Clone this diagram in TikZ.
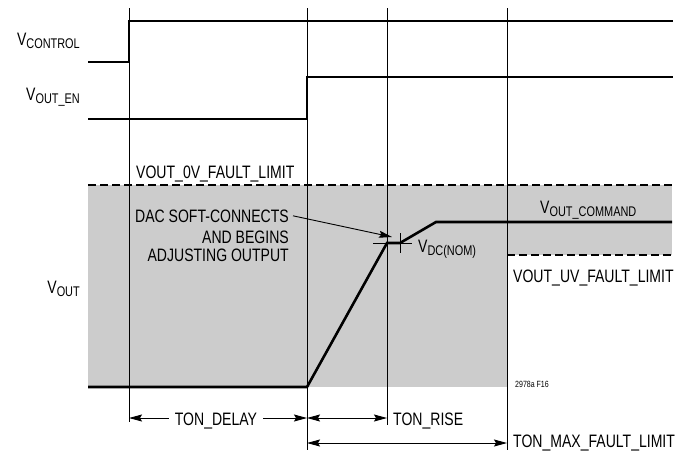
\documentclass[tikz,border=0pt]{standalone}
\usepackage{fontspec}
\setmainfont{Liberation Sans}[FakeStretch=0.78]
\usetikzlibrary{arrows.meta}
\definecolor{areagray}{HTML}{CCCCCC}
\newcommand\lsub[1]{\raisebox{-0.35ex}{\fontsize{14}{14}\selectfont #1}}
\begin{document}
\begin{tikzpicture}[x=1pt,y=-1pt,
  sig/.style={line width=2.6pt,line cap=butt,line join=miter},
  guide/.style={line width=0.8pt},
  lim/.style={line width=1.2pt,dash pattern=on 8pt off 4pt},
  lbl/.style={inner sep=0pt,font=\fontsize{18}{18}\selectfont},
  dim/.style={line width=0.9pt,-{Stealth[length=13pt,width=7pt,inset=2pt]}},
  dimb/.style={line width=0.9pt,{Stealth[length=13pt,width=7pt,inset=2pt]}-{Stealth[length=13pt,width=7pt,inset=2pt]}}]
\useasboundingbox (0,0) rectangle (677,450);
% shaded window
\fill[areagray] (88,185) rectangle (507,387);
\fill[areagray] (507,185) rectangle (672,255);
% limits
\draw[lim] (88,185) -- (673,185);
\draw[lim] (507,255) -- (672,255);
% guides
\coordinate (g1t) at (129,8);   \coordinate (g1b) at (129,422);
\coordinate (g2t) at (307,8);   \coordinate (g2b) at (307,450);
\coordinate (g3t) at (387,8);   \coordinate (g3b) at (387,425);
\coordinate (g4t) at (507,8);   \coordinate (g4b) at (507,450);
\draw[guide] (g1t) -- (g1b);
\draw[guide] (g2t) -- (g2b);
\draw[guide] (g3t) -- (g3b);
\draw[guide] (g4t) -- (g4b);
% signals
\draw[sig] (88,62) -- (129,62) -- (129,21) -- (673,21);
\draw[sig] (88,119) -- (307,119) -- (307,77) -- (673,77);
\coordinate (v0) at (307,387);
\coordinate (vnom) at (387,243);
\coordinate (vnom2) at (400,243);
\coordinate (vcmd) at (436,222);
\draw[sig] (88,387) -- (v0) -- (vnom) -- (vnom2) -- (vcmd) -- (672,222);
% crosshair
\draw[guide] (373,243) -- (412,243);
\draw[guide] (400,233) -- (400,253);
% labels
\node[lbl,anchor=base east] at (80,45) {V\lsub{CONTROL}};
\node[lbl,anchor=base east] at (80,100) {V\lsub{OUT\_EN}};
\node[lbl,anchor=base west] at (136,178) {VOUT\_0V\_FAULT\_LIMIT};
\node[lbl,anchor=base east] (dac) at (289,222) {DAC SOFT-CONNECTS};
\node[lbl,anchor=base east] at (289,243) {AND BEGINS};
\node[lbl,anchor=base east] at (289,261) {ADJUSTING OUTPUT};
\node[lbl,anchor=base east] at (80,293) {V\lsub{OUT}};
\node[lbl,anchor=base west] at (540,213) {V\lsub{OUT\_COMMAND}};
\node[lbl,anchor=base west] at (418,252) {V\lsub{DC(NOM)}};
\node[lbl,anchor=base west] at (513,282) {VOUT\_UV\_FAULT\_LIMIT};
\node[inner sep=0pt,anchor=base west,font=\fontsize{9}{9}\selectfont] at (515,387) {2978a F16};
\coordinate (dacend) at (392,237);
\draw[dim] ([xshift=4pt]dac.east) -- (dacend);
% dimensions
\node[lbl,anchor=base] (tdl) at (216,425) {TON\_DELAY};
\draw[dim] ([xshift=-6pt,yshift=7pt]tdl.base west) -- (g1b |- 0,418);
\draw[dim] ([xshift=6pt,yshift=7pt]tdl.base east) -- (g2b |- 0,418);
\draw[dimb] (g2b |- 0,418) -- (g3b |- 0,418);
\node[lbl,anchor=base west] at (393,425) {TON\_RISE};
\draw[dimb] (g2b |- 0,443) -- (g4b |- 0,443);
\node[lbl,anchor=base west] at (513,447) {TON\_MAX\_FAULT\_LIMIT};
\end{tikzpicture}
\end{document}
